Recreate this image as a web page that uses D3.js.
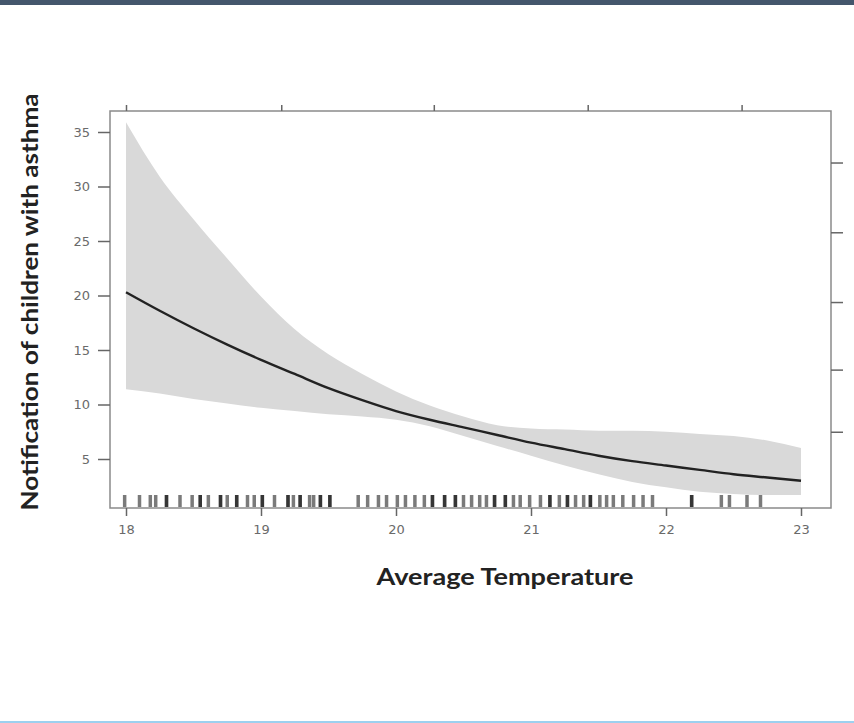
<!DOCTYPE html>
<html>
<head>
<meta charset="utf-8">
<script src="https://cdn.jsdelivr.net/npm/d3@7"></script>
<style>
  body { margin: 0; background: #fff; }
  svg { display: block; }
</style>
</head>
<body>
<div id="chart"></div>
<script>
const FRAME_WIDTH = 854;
const FRAME_HEIGHT = 723;
const PLOT = {left: 110, right: 831, top: 111, bottom: 508};

// fitted smooth + confidence band
const temperature = [18, 18.25, 18.5, 18.75, 19, 19.25, 19.5, 19.75, 20, 20.25, 20.5,
                     20.75, 21, 21.25, 21.5, 21.75, 22, 22.25, 22.5, 22.75, 23];
const fitted = [20.3, 18.6, 17.0, 15.5, 14.1, 12.8, 11.5, 10.4, 9.4, 8.6, 7.9,
                7.2, 6.5, 5.9, 5.3, 4.8, 4.4, 4.0, 3.6, 3.3, 3.0];
const upper = [35.9, 30.9, 27.0, 23.4, 19.9, 16.9, 14.6, 12.8, 11.2, 9.9, 8.9,
               8.1, 7.8, 7.7, 7.6, 7.6, 7.5, 7.3, 7.1, 6.7, 6.0];
const lower = [11.4, 11.0, 10.5, 10.1, 9.7, 9.4, 9.1, 8.9, 8.6, 8.0, 7.1,
               6.2, 5.3, 4.4, 3.6, 2.9, 2.4, 2.0, 1.8, 1.7, 1.7];

// rug of observed temperatures
const rug = [17.99, 18.10, 18.18, 18.22, 18.30, 18.40, 18.49, 18.55, 18.61, 18.70, 18.75,
             18.82, 18.90, 18.95, 19.01, 19.10, 19.20, 19.24, 19.29, 19.36, 19.39, 19.44,
             19.51, 19.72, 19.79, 19.87, 19.93, 20.01, 20.07, 20.14, 20.21, 20.27, 20.36,
             20.44, 20.50, 20.56, 20.62, 20.67, 20.73, 20.81, 20.87, 20.92, 20.99, 21.07,
             21.14, 21.21, 21.27, 21.33, 21.39, 21.44, 21.51, 21.56, 21.61, 21.68, 21.76,
             21.83, 21.90, 22.19, 22.41, 22.47, 22.60, 22.70];
const darkRug = [18.30, 18.55, 18.70, 18.82, 19.01, 19.20, 19.29, 19.44, 19.51, 20.27,
                 20.36, 20.44, 20.73, 20.81, 21.14, 21.27, 21.44, 22.19];

const xTicks = [18, 19, 20, 21, 22, 23];
const yTicks = [5, 10, 15, 20, 25, 30, 35];
const topTicks = [18, 19.15, 20.28, 21.42, 22.56];
const rightTicks = [32.2, 25.8, 19.4, 13.2, 7.5];

const svg = d3.select("#chart").append("svg")
  .attr("width", FRAME_WIDTH)
  .attr("height", FRAME_HEIGHT);

// header bar and bottom rule
svg.append("rect").attr("x", 0).attr("y", 0).attr("width", FRAME_WIDTH).attr("height", 5)
  .attr("fill", "#44566c");
svg.append("rect").attr("x", 0).attr("y", 721).attr("width", FRAME_WIDTH).attr("height", 2)
  .attr("fill", "#9dd0ef");

const x = d3.scaleLinear().domain([18, 23]).range([126, 801]);
const y = d3.scaleLinear().domain([5, 35]).range([459, 132]);

const rows = temperature.map((t, i) => ({t: t, fit: fitted[i], hi: upper[i], lo: lower[i]}));

// confidence band
svg.append("path")
  .datum(rows)
  .attr("fill", "#d9d9d9")
  .attr("d", d3.area()
    .x(d => x(d.t))
    .y0(d => y(d.lo))
    .y1(d => y(d.hi))
    .curve(d3.curveMonotoneX));

// fitted line
svg.append("path")
  .datum(rows)
  .attr("fill", "none")
  .attr("stroke", "#222")
  .attr("stroke-width", 2.4)
  .attr("d", d3.line()
    .x(d => x(d.t))
    .y(d => y(d.fit))
    .curve(d3.curveMonotoneX));

// rug
function drawRug(values, colour) {
  svg.append("g").selectAll("line")
    .data(values)
    .enter()
    .append("line")
      .attr("x1", d => x(d)).attr("x2", d => x(d))
      .attr("y1", PLOT.bottom - 13).attr("y2", PLOT.bottom - 1)
      .attr("stroke", colour)
      .attr("stroke-opacity", 0.65)
      .attr("stroke-width", 3.5);
}
drawRug(rug, "#333");
drawRug(darkRug, "#111");

// plot frame
svg.append("rect")
  .attr("x", PLOT.left).attr("y", PLOT.top)
  .attr("width", PLOT.right - PLOT.left).attr("height", PLOT.bottom - PLOT.top)
  .attr("fill", "none")
  .attr("stroke", "#8a8a8a")
  .attr("stroke-width", 1.5);

function styleAxis(g) {
  g.select(".domain").remove();
  g.selectAll(".tick line").attr("stroke", "#666").attr("stroke-width", 1.5);
  g.selectAll(".tick text")
    .attr("fill", "#6a6a6a")
    .attr("font-family", "DejaVu Sans, sans-serif")
    .attr("font-size", "13px");
}

// bottom axis
svg.append("g")
  .attr("transform", "translate(0," + PLOT.bottom + ")")
  .call(d3.axisBottom(x).tickValues(xTicks).tickSize(8).tickPadding(9).tickFormat(d3.format("d")))
  .call(styleAxis);

// left axis
svg.append("g")
  .attr("transform", "translate(" + PLOT.left + ",0)")
  .call(d3.axisLeft(y).tickValues(yTicks).tickSize(12).tickPadding(8))
  .call(styleAxis);

// top ticks (no labels)
svg.append("g")
  .attr("transform", "translate(0," + PLOT.top + ")")
  .call(d3.axisTop(x).tickValues(topTicks).tickSize(6).tickFormat(""))
  .call(styleAxis);

// right ticks (no labels)
svg.append("g")
  .attr("transform", "translate(" + PLOT.right + ",0)")
  .call(d3.axisRight(y).tickValues(rightTicks).tickSize(12).tickFormat(""))
  .call(styleAxis);

// axis titles
svg.append("text")
  .attr("x", 505)
  .attr("y", 585)
  .attr("text-anchor", "middle")
  .attr("font-family", "Lato, sans-serif")
  .attr("font-weight", "bold")
  .attr("font-size", "23px")
  .attr("textLength", 257)
  .attr("lengthAdjust", "spacingAndGlyphs")
  .attr("fill", "#222")
  .text("Average Temperature");

svg.append("text")
  .attr("transform", "translate(38,302) rotate(-90)")
  .attr("text-anchor", "middle")
  .attr("font-family", "Lato, sans-serif")
  .attr("font-weight", "bold")
  .attr("font-size", "23px")
  .attr("textLength", 417)
  .attr("lengthAdjust", "spacingAndGlyphs")
  .attr("fill", "#222")
  .text("Notification of children with asthma");
</script>
</body>
</html>
